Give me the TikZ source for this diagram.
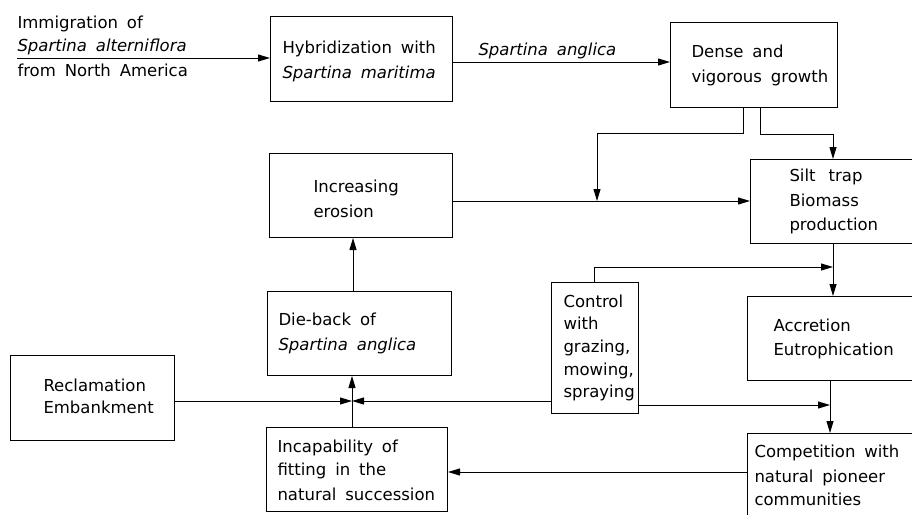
\documentclass[tikz,border=0pt]{standalone}
\usepackage{fontspec}
\setmainfont[WordSpace=1.7]{DejaVu Sans}
\usetikzlibrary{arrows.meta}
\begin{document}
\begin{tikzpicture}[x=1pt,y=-1pt,
  line width=1pt,
  box/.style={draw,line width=1pt,inner sep=0pt,anchor=north west},
  txt/.style={anchor=base west,inner sep=0pt,font=\fontsize{16.5}{20}\selectfont},
  arr/.style={-{Triangle[length=12pt,width=7pt]}}]
\clip (0,0) rectangle (912,514);
\fill[white] (0,0) rectangle (912,514);
% boxes
\node[box,minimum width=182pt,minimum height=85pt] (hyb) at (270,16) {};
\node[box,minimum width=167pt,minimum height=85pt] (dense) at (670,22) {};
\node[box,minimum width=183pt,minimum height=84pt] (eros) at (269,153) {};
\node[box,minimum width=170pt,minimum height=84pt] (silt) at (750,159) {};
\node[box,minimum width=173pt,minimum height=84pt] (accr) at (747,296) {};
\node[box,minimum width=173pt,minimum height=90pt] (comp) at (747,433) {};
\node[box,minimum width=87pt,minimum height=131pt] (ctrl) at (551,282) {};
\node[box,minimum width=184pt,minimum height=84pt] (die) at (267,291) {};
\node[box,minimum width=164pt,minimum height=85pt] (recl) at (10,355) {};
\node[box,minimum width=181pt,minimum height=84pt] (inc) at (266,427) {};
% texts
\node[txt] (im1) at (17,28) {Immigration of};
\node[txt] (im2) at (17,51) {\itshape Spartina alterniflora};
\node[txt] (im3) at (17,76) {from North America};
\node[txt] (hy1) at (282,53) {Hybridization with};
\node[txt] (hy2) at (282,78) {\itshape Spartina maritima};
\node[txt] (lab) at (478,55) {\itshape Spartina anglica};
\node[txt] (de1) at (691,57) {Dense and};
\node[txt] (de2) at (691,82) {vigorous growth};
\node[txt] (er1) at (313,192) {Increasing};
\node[txt] (er2) at (313,217) {erosion};
\node[txt] (si1) at (789,181) {Silt\hspace{0.25em} trap};
\node[txt] (si2) at (789,206) {Biomass};
\node[txt] (si3) at (789,230) {production};
\node[txt] (co1) at (563,307) {Control};
\node[txt] (co2) at (563,329) {with};
\node[txt] (co3) at (563,352) {grazing,};
\node[txt] (co4) at (563,375) {mowing,};
\node[txt] (co5) at (563,397) {spraying};
\node[txt] (ac1) at (773,331) {Accretion};
\node[txt] (ac2) at (773,355) {Eutrophication};
\node[txt] (cm1) at (754,457) {Competition with};
\node[txt] (cm2) at (754,482) {natural pioneer};
\node[txt] (cm3) at (754,505) {communities};
\node[txt] (di1) at (278,325) {Die-back of};
\node[txt] (di2) at (278,350) {\itshape Spartina anglica};
\node[txt] (re1) at (43,391) {Reclamation};
\node[txt] (re2) at (43,413) {Embankment};
\node[txt] (in1) at (277,452) {Incapability of};
\node[txt] (in2) at (277,475) {fitting in the};
\node[txt] (in3) at (277,500) {natural succession};
% coordinates
\coordinate (imm) at (17,58);
\coordinate (J) at (352,401);
\coordinate (j1) at (597,201);
\coordinate (k) at (833,267);
\coordinate (m) at (830,405);
% connectors
\draw[arr] (imm) -- (hyb.west |- imm);
\draw[arr] (hyb.east |- 0,62) -- (dense.west |- 0,62);
\draw[arr] (dense.south -| 743,0) -- (743,133) -- (597,133) -- (j1);
\draw[arr] (dense.south -| 760,0) -- (760,134) -- (833,134) -- (silt.north -| 833,0);
\draw[arr] (eros.east |- j1) -- (silt.west |- j1);
\draw[arr] (die.north -| 353,0) -- (eros.south -| 353,0);
\draw[arr] (J |- inc.north) -- (J |- die.south);
\draw[arr] (recl.east |- J) -- (J);
\draw[arr] (ctrl.west |- J) -- (J);
\draw[arr] (ctrl.north -| 594,0) -- (594,267) -- (k);
\draw[arr] (silt.south -| k) -- (accr.north -| k);
\draw[arr] (ctrl.east |- m) -- (m);
\draw[arr] (accr.south -| m) -- (comp.north -| m);
\draw[arr] (comp.west |- 0,472) -- (inc.east |- 0,472);
\end{tikzpicture}
\end{document}
